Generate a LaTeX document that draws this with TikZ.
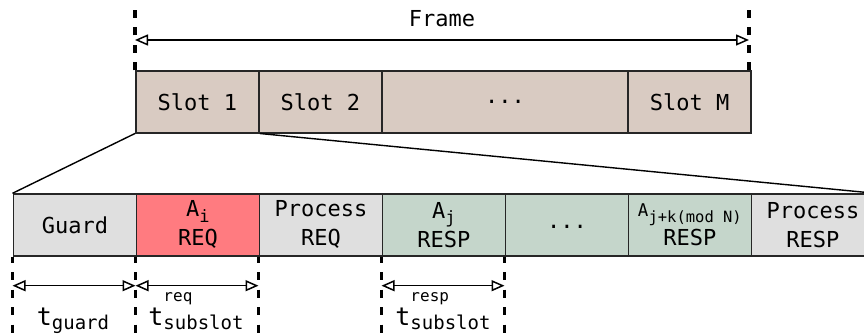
\documentclass[tikz,border=0pt]{standalone}
\usepackage{fontspec}
\setmainfont{DejaVu Sans Mono}
\usetikzlibrary{arrows.meta}
\definecolor{slotc}{HTML}{D9CBC2}
\definecolor{grayc}{HTML}{DFDFDF}
\definecolor{redc}{HTML}{FF7B80}
\definecolor{greenc}{HTML}{C5D6CB}
\definecolor{linec}{HTML}{262626}
\newcommand\mysub[2][17]{\raisebox{-5.5pt}{\fontsize{#1}{#1}\selectfont #2}}
\newcommand\tsub[1]{\raisebox{-4pt}{\fontsize{19}{19}\selectfont #1}}
\newcommand\tsup[1]{\rlap{\raisebox{24pt}{\fontsize{16}{16}\selectfont #1}}}
\begin{document}
\begin{tikzpicture}[x=1pt,y=-1pt,
  box/.style={draw=linec, line width=1.8pt, minimum width=123pt, minimum height=61.4pt,
    anchor=north west, inner sep=0pt, align=center, font=\fontsize{22}{29}\selectfont},
  dim/.style={line width=1.5pt, {Triangle[open,length=13pt,width=11pt]}-{Triangle[open,length=13pt,width=11pt]}},
  guide/.style={draw=black, line width=3.2pt, dash pattern=on 8pt off 9.5pt},
  link/.style={draw=black, line width=1.4pt},
  lbl/.style={anchor=base, inner sep=0pt, font=\fontsize{22}{22}\selectfont},
  tlbl/.style={anchor=base, inner sep=0pt, font=\fontsize{25}{25}\selectfont}]
\useasboundingbox (0,0) rectangle (864,334);
\clip (0,0) rectangle (864,334);
% top row
\node[box, fill=slotc] (s1) at (135,70.3) {Slot 1};
\node[box, fill=slotc] (s2) at (258,70.3) {Slot 2};
\node[box, fill=slotc, minimum width=246pt] (sd) at (381,70.3) {\raisebox{-2pt}{...}};
\node[box, fill=slotc] (sM) at (627.3,70.3) {Slot M};
% frame dimension
\coordinate (ft1) at (135,8);
\coordinate (ft2) at (749,8);
\coordinate (fb2) at (749,70.3);
\draw[guide] (s1.north west) -- (ft1);
\draw[guide] (fb2) -- (ft2);
\coordinate (fa1) at (135,40);
\coordinate (fa2) at (749,40);
\draw[dim] (fa1) -- (fa2);
\node[lbl] (frame) at (442,26.7) {Frame};
% bottom row
\node[box, fill=grayc] (b1) at (12.5,193.3) {Guard};
\node[box, fill=redc] (b2) at (135.5,193.3) {A\mysub{i}\\REQ};
\node[box, fill=grayc] (b3) at (258.5,193.3) {Process\\REQ};
\node[box, fill=greenc] (b4) at (381.5,193.3) {A\mysub{j}\\RESP};
\node[box, fill=greenc] (b5) at (504.5,193.3) {\raisebox{-8pt}{...}};
\node[box, fill=greenc] (b6) at (627.5,193.3) {{\fontsize{17.5}{17.5}\selectfont A\mysub[15.5]{j+k(mod N)}}\\RESP};
\node[box, fill=grayc] (b7) at (750.5,193.3) {Process\\RESP};
% zoom links
\draw[link] (s1.south west) -- (b1.north west);
\draw[link] (s1.south east) -- (b7.north east);
% bottom guides
\coordinate (g1) at (12.5,334);
\coordinate (g2) at (135.5,334);
\coordinate (g3) at (258.5,334);
\coordinate (g4) at (381.5,334);
\coordinate (g5) at (504.5,334);
\draw[guide, dash phase=2pt] (b1.south west) -- (g1);
\draw[guide, dash phase=2pt] (b2.south west) -- (g2);
\draw[guide, dash phase=2pt] (b3.south west) -- (g3);
\draw[guide, dash phase=2pt] (b4.south west) -- (g4);
\draw[guide, dash phase=2pt] (b5.south west) -- (g5);
\coordinate (d1) at (12.5,285.7);
\coordinate (d2) at (135.5,285.7);
\coordinate (d3) at (258.5,285.7);
\coordinate (d4) at (381.5,285.7);
\coordinate (d5) at (504.5,285.7);
\draw[dim] (d1) -- (d2);
\draw[dim] (d2) -- (d3);
\draw[dim] (d4) -- (d5);
\node[tlbl] (tg) at (73,325.5) {t\tsub{guard}};
\node[tlbl] (treq) at (196,325.5) {t\tsup{req}\tsub{subslot}};
\node[tlbl] (tresp) at (443,325.5) {t\tsup{resp}\tsub{subslot}};
\end{tikzpicture}
\end{document}
